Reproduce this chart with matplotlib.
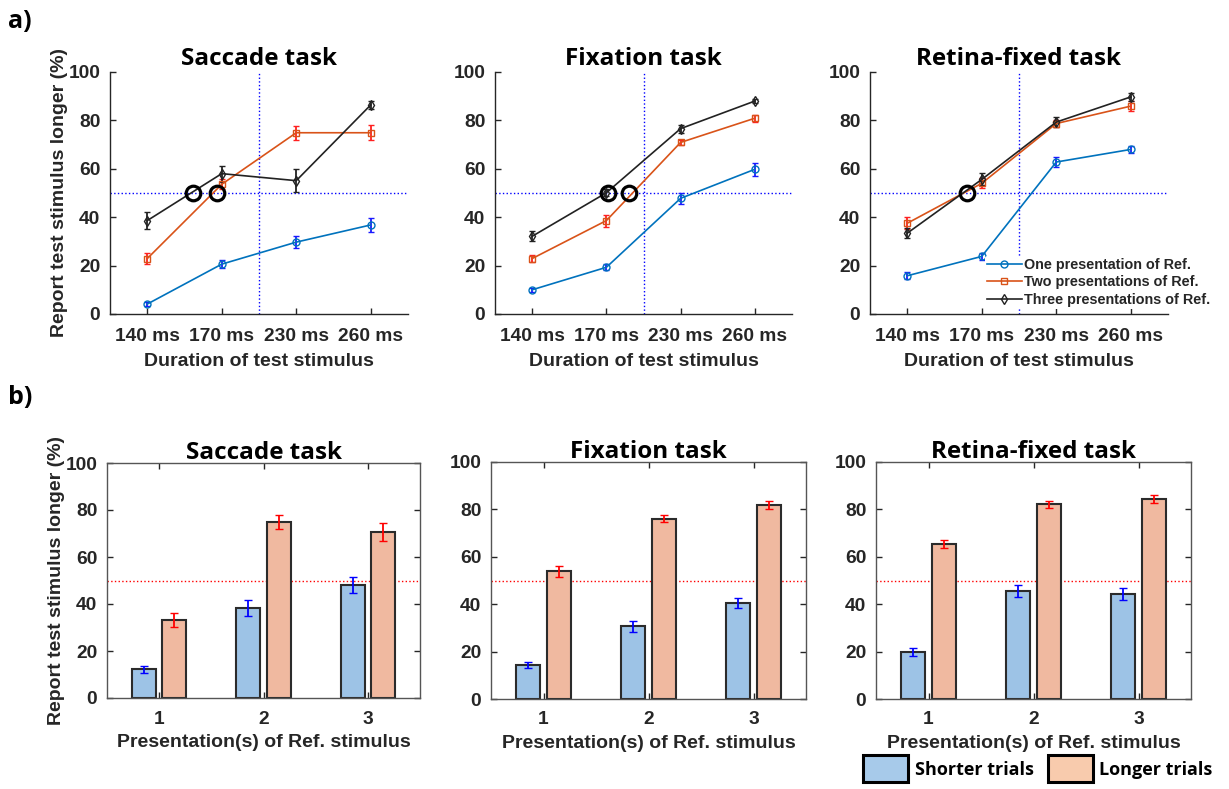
import matplotlib.pyplot as plt
from matplotlib.patches import Patch
from matplotlib.lines import Line2D

# top row: psychometric data, % "test longer" for each test duration
durations = ['140 ms', '170 ms', '230 ms', '260 ms']

sac_one = [4.1, 20.6, 29.7, 36.8]
sac_one_err = [0.8, 1.7, 2.4, 3.0]
sac_two = [22.9, 53.6, 74.9, 74.9]
sac_two_err = [2.4, 2.0, 2.9, 3.2]
sac_three = [38.6, 58.0, 55.1, 86.4]
sac_three_err = [3.6, 3.3, 4.8, 1.5]
sac_pse = [1.62, 1.93]

fix_one = [10.0, 19.3, 47.8, 59.8]
fix_one_err = [0.8, 1.3, 2.2, 2.6]
fix_two = [22.9, 38.6, 70.9, 80.9]
fix_two_err = [1.3, 2.5, 1.2, 1.5]
fix_three = [32.1, 50.1, 76.6, 88.0]
fix_three_err = [2.0, 1.5, 1.7, 1.0]
fix_pse = [2.02, 2.31]

ret_one = [15.8, 23.8, 62.8, 68.0]
ret_one_err = [1.5, 1.5, 2.0, 1.5]
ret_two = [37.5, 54.0, 78.7, 85.9]
ret_two_err = [2.5, 2.0, 1.5, 2.0]
ret_three = [33.4, 55.6, 79.3, 89.7]
ret_three_err = [2.0, 2.5, 2.0, 1.5]
ret_pse = [1.80]

# bottom row: shorter vs longer trials per number of reference presentations
presentations = ['1', '2', '3']
sac_short = [12.2, 38.1, 48.2]
sac_short_err = [1.6, 3.4, 3.5]
sac_long = [33.2, 74.8, 70.7]
sac_long_err = [2.8, 3.0, 3.8]

fix_short = [14.5, 30.6, 40.5]
fix_short_err = [1.3, 2.3, 2.3]
fix_long = [53.9, 76.0, 82.0]
fix_long_err = [2.4, 1.5, 1.7]

ret_short = [19.9, 45.7, 44.3]
ret_short_err = [1.8, 2.5, 2.6]
ret_long = [65.4, 82.1, 84.2]
ret_long_err = [1.5, 1.5, 1.7]

titles = ['Saccade task', 'Fixation task', 'Retina-fixed task']
series_labels = ['One presentation of Ref.', 'Two presentations of Ref.',
                 'Three presentations of Ref.']

W, H = 1229, 789
tick_font = dict(family='Liberation Sans', weight='bold')
title_font = dict(family='Open Sans', weight='bold', size=17.5)
tick_col = '#262626'

blue = '#0072BD'
orange = '#D95319'


def rect(l, r, t, b):
    return [l / W, 1 - b / H, (r - l) / W, (b - t) / H]


def style_ticks(ax):
    for lab in ax.get_xticklabels() + ax.get_yticklabels():
        lab.set_fontfamily('Liberation Sans')
        lab.set_fontweight('bold')
        lab.set_fontsize(13.8)
        lab.set_color(tick_col)


fig = plt.figure(figsize=(W / 100, H / 100), dpi=100)

top_rects = [rect(110, 408, 72, 314), rect(495, 792, 72, 314), rect(870, 1168, 72, 314)]
top_data = [
    (sac_one, sac_one_err, sac_two, sac_two_err, sac_three, sac_three_err, sac_pse),
    (fix_one, fix_one_err, fix_two, fix_two_err, fix_three, fix_three_err, fix_pse),
    (ret_one, ret_one_err, ret_two, ret_two_err, ret_three, ret_three_err, ret_pse),
]

x = [1, 2, 3, 4]
for i, (r, d) in enumerate(zip(top_rects, top_data)):
    one, one_e, two, two_e, three, three_e, pse = d
    ax = fig.add_axes(r)
    ax.axhline(50, color='#0000ff', ls=':', lw=1.0, zorder=1)
    ax.axvline(2.5, color='#0000ff', ls=':', lw=1.0, zorder=1)
    ax.errorbar(x, one, yerr=one_e, color=blue, ecolor='#1a1aff', marker='o',
                mfc='none', ms=5, lw=1.2, capsize=2, elinewidth=1.3, zorder=3)
    ax.errorbar(x, two, yerr=two_e, color=orange, ecolor='#ff2020', marker='s',
                mfc='none', ms=4.5, lw=1.2, capsize=2, elinewidth=1.3, zorder=3)
    ax.errorbar(x, three, yerr=three_e, color='#222222', ecolor='#222222', marker='d',
                mfc='none', ms=5, lw=1.2, capsize=2, elinewidth=1.3, zorder=3)
    ax.plot(pse, [50] * len(pse), 'o', mfc='none', mec='black', ms=10.5, mew=2.3, zorder=5)
    ax.set_xlim(0.5, 4.5)
    ax.set_ylim(0, 100)
    ax.set_xticks(x)
    ax.set_xticklabels(durations)
    ax.set_yticks([0, 20, 40, 60, 80, 100])
    ax.spines['top'].set_visible(False)
    ax.spines['right'].set_visible(False)
    for s in ('left', 'bottom'):
        ax.spines[s].set_color(tick_col)
        ax.spines[s].set_linewidth(1.0)
        ax.spines[s].set_zorder(6)
    ax.tick_params(direction='in', length=4, width=1, colors=tick_col, pad=7)
    ax.tick_params(axis='x', pad=10)
    style_ticks(ax)
    ax.set_title(titles[i], fontdict=title_font, pad=5)
    ax.set_xlabel('Duration of test stimulus', fontsize=14, color=tick_col, labelpad=6,
                  **tick_font)
    if i == 0:
        ax.set_ylabel('Report test stimulus longer (%)', fontsize=14, color=tick_col,
                      labelpad=0, **tick_font)
    if i == 2:
        handles = [
            Line2D([], [], color=blue, marker='o', mfc='none', ms=5, lw=1.2),
            Line2D([], [], color=orange, marker='s', mfc='none', ms=4.5, lw=1.2),
            Line2D([], [], color='#222222', marker='d', mfc='none', ms=5, lw=1.2),
        ]
        leg = ax.legend(handles, series_labels, loc='lower left', bbox_to_anchor=(0.385, 0.02),
                        frameon=True, facecolor='white', edgecolor='none', framealpha=1,
                        handlelength=2.4, handletextpad=0.2, labelspacing=0.25,
                        borderpad=0.15, borderaxespad=0.0,
                        prop=dict(family='Liberation Sans', weight='bold', size=10.4))
        leg.set_zorder(4)
        for t in leg.get_texts():
            t.set_color(tick_col)

bot_rects = [rect(107, 420, 463, 698), rect(491, 806, 462, 699), rect(876, 1191, 462, 699)]
bot_data = [
    (sac_short, sac_short_err, sac_long, sac_long_err),
    (fix_short, fix_short_err, fix_long, fix_long_err),
    (ret_short, ret_short_err, ret_long, ret_long_err),
]
bar_blue = '#9DC3E6'
bar_orange = '#F0B9A0'
xb = [1, 2, 3]
off = 0.145
bw = 0.23
for i, (r, d) in enumerate(zip(bot_rects, bot_data)):
    short, short_e, long_, long_e = d
    ax = fig.add_axes(r)
    ax.axhline(50, color='#ff0000', ls=':', lw=1.0, zorder=1)
    ax.bar([v - off for v in xb], short, width=bw, color=bar_blue, edgecolor='#2b2b2b',
           lw=1.5, zorder=2)
    ax.bar([v + off for v in xb], long_, width=bw, color=bar_orange, edgecolor='#2b2b2b',
           lw=1.5, zorder=2)
    ax.errorbar([v - off for v in xb], short, yerr=short_e, fmt='none', ecolor='#0000ff',
                elinewidth=1.3, capsize=3, zorder=3)
    ax.errorbar([v + off for v in xb], long_, yerr=long_e, fmt='none', ecolor='#ff0000',
                elinewidth=1.3, capsize=3, zorder=3)
    ax.set_xlim(0.5, 3.5)
    ax.set_ylim(0, 100)
    ax.set_xticks(xb)
    ax.set_xticklabels(presentations)
    ax.set_yticks([0, 20, 40, 60, 80, 100])
    for s in ax.spines.values():
        s.set_color('#555555')
        s.set_linewidth(1.0)
    ax.tick_params(direction='in', length=4, width=1, colors=tick_col, pad=7,
                   top=True, right=True)
    ax.tick_params(axis='x', pad=9)
    style_ticks(ax)
    ax.set_title(titles[i], fontdict=title_font, pad=3)
    ax.set_xlabel('Presentation(s) of Ref. stimulus', fontsize=14, color=tick_col,
                  labelpad=5, **tick_font)
    if i == 0:
        ax.set_ylabel('Report test stimulus longer (%)', fontsize=14, color=tick_col,
                      labelpad=0, **tick_font)

# legend for the bar colours, bottom right corner
fig.legend(handles=[Patch(facecolor='#A7CAEA', edgecolor='black', lw=2.2),
                    Patch(facecolor='#F8CBAD', edgecolor='black', lw=2.2)],
           labels=['Shorter trials', 'Longer trials'], loc='lower right',
           bbox_to_anchor=(1.0, -0.012), ncol=2, frameon=False,
           handlelength=2.5, handleheight=1.9, handletextpad=0.35, columnspacing=0.8,
           prop=dict(family='Open Sans', weight='bold', size=13))

fig.text(8 / W, 1 - 22 / H, 'a)', fontsize=18, fontweight='bold', family='Open Sans',
         va='center')
fig.text(8 / W, 1 - 398 / H, 'b)', fontsize=18, fontweight='bold', family='Open Sans',
         va='center')

fig.savefig('out.png', dpi=100)
